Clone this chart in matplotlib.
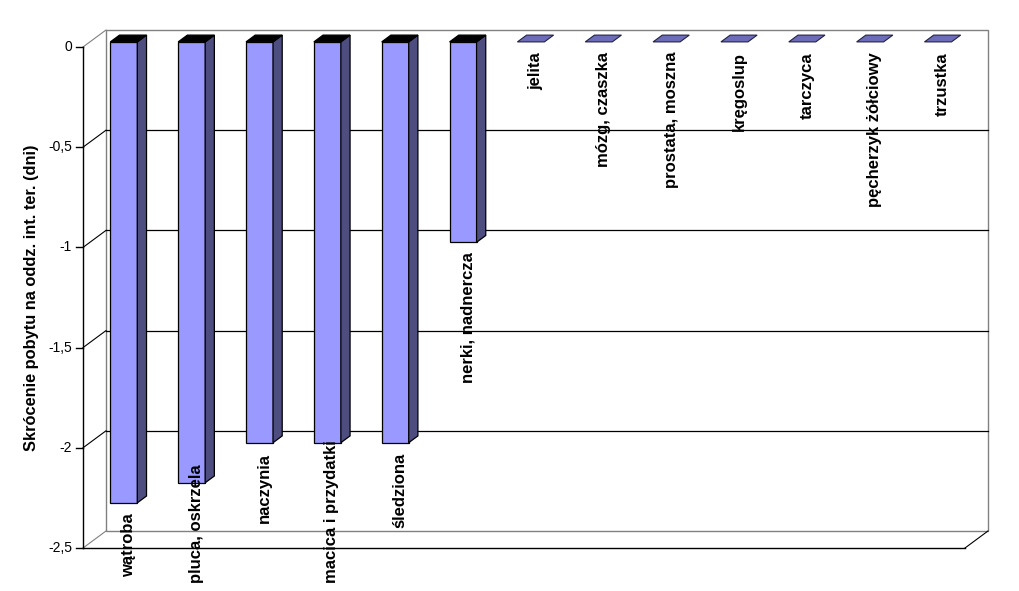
import numpy as np
import matplotlib.pyplot as plt
from matplotlib.patches import Polygon, Rectangle

categories = ["wątroba", "pluca, oskrzela", "naczynia", "macica i przydatki",
              "śledziona", "nerki, nadnercza", "jelita", "mózg, czaszka",
              "prostata, moszna", "kręgoslup", "tarczyca", "pęcherzyk żółciowy",
              "trzustka"]
values = [-2.3, -2.2, -2.0, -2.0, -2.0, -1.0, 0, 0, 0, 0, 0, 0, 0]
yticks = [0, -0.5, -1, -1.5, -2, -2.5]
ytick_labels = ["0", "-0,5", "-1", "-1,5", "-2", "-2,5"]

plt.rcParams["font.family"] = ["Liberation Sans", "DejaVu Sans"]

W, H = 1020, 591
fig = plt.figure(figsize=(W / 100, H / 100), dpi=100)

# front plane of the 3d box, in pixels
ax_left, ax_top, ax_w, ax_h = 83, 47, 882, 501
ax = fig.add_axes([ax_left / W, (H - ax_top - ax_h) / H, ax_w / W, ax_h / H])
n = len(categories)
ymin, ymax = -2.5, 0
ax.set_xlim(-0.5, n - 0.5)
ax.set_ylim(ymin, ymax)
ax.axis("off")

sx = ax_w / n
sy = ax_h / (ymax - ymin)
# depth of the box (pixels -> data units)
dx, dy = 23 / sx, 17 / sy
bw = 27 / sx
f0, f1 = 0.3, 0.7

front_col = "#9999FF"
side_col = "#4D4D80"
top_col = "#000000"
flat_col = "#6C6CB8"

# back wall
ax.add_patch(Rectangle((-0.5 + dx, ymin + dy), n, ymax - ymin, fill=False,
                       edgecolor="#808080", lw=1, clip_on=False, zorder=1))
for t in yticks[1:-1]:
    ax.plot([-0.5 + dx, n - 0.5 + dx], [t + dy, t + dy], color="black", lw=0.9,
            clip_on=False, zorder=1)
    ax.plot([-0.5, -0.5 + dx], [t, t + dy], color="black", lw=0.8, clip_on=False, zorder=1)
for t in (yticks[0], yticks[-1]):
    ax.plot([-0.5, -0.5 + dx], [t, t + dy], color="#808080", lw=0.8, clip_on=False, zorder=1)

# floor
ax.plot([-0.5, n - 0.5], [ymin, ymin], color="black", lw=1, clip_on=False, zorder=5)
ax.plot([n - 0.5, n - 0.5 + dx], [ymin, ymin + dy], color="black", lw=0.8,
        clip_on=False, zorder=5)

# front value axis
ax.plot([-0.5, -0.5], [ymin, ymax], color="black", lw=1, clip_on=False, zorder=2)
tick_len = 7 / sx
for t, lab in zip(yticks, ytick_labels):
    ax.plot([-0.5 - tick_len, -0.5], [t, t], color="black", lw=1, clip_on=False)
    ax.text(-0.5 - tick_len - 4 / sx, t, lab, ha="right", va="center", fontsize=10)

ax.text(-0.5 - 51 / sx, (ymin + ymax) / 2, "Skrócenie pobytu na oddz. int. ter. (dni)",
        rotation=90, ha="center", va="center", fontsize=11.8, fontweight="bold")

# bars
ox, oy = f0 * dx, f0 * dy
ddx, ddy = (f1 - f0) * dx, (f1 - f0) * dy
for i, v in enumerate(values):
    xl = i - bw / 2 + ox
    xr = i + bw / 2 + ox
    y0 = 0 + oy
    y1 = v + oy
    if v == 0:
        ax.add_patch(Polygon([(xl, y0), (xr, y0), (xr + ddx, y0 + ddy), (xl + ddx, y0 + ddy)],
                             closed=True, facecolor=flat_col, edgecolor="#222244", lw=0.8,
                             clip_on=False, zorder=3))
        continue
    ax.bar(xl, y1 - y0, bottom=y0, width=bw, align="edge", color=front_col,
           edgecolor="black", lw=0.9, zorder=3, clip_on=False)
    ax.add_patch(Polygon([(xr, y0), (xr, y1), (xr + ddx, y1 + ddy), (xr + ddx, y0 + ddy)],
                         closed=True, facecolor=side_col, edgecolor="black", lw=0.9,
                         clip_on=False, zorder=3))
    ax.add_patch(Polygon([(xl, y0), (xr, y0), (xr + ddx, y0 + ddy), (xl + ddx, y0 + ddy)],
                         closed=True, facecolor=top_col, edgecolor="black", lw=0.9,
                         clip_on=False, zorder=3))

# category labels under each bar end
fig.canvas.draw()
renderer = fig.canvas.get_renderer()
bottom_limit_px = 8  # pixels from figure bottom
for i, (cat, v) in enumerate(zip(categories, values)):
    x = i + ox + ddx / 2
    y = v + oy - 10 / sy
    txt = ax.text(x, y, cat, rotation=90, ha="center", va="top", fontsize=12,
                  fontweight="bold", zorder=4)
    bb = txt.get_window_extent(renderer)
    if bb.y0 < bottom_limit_px:
        shift = (bottom_limit_px - bb.y0) / sy
        txt.set_position((x, y + shift))

fig.savefig("out.png", dpi=100)
